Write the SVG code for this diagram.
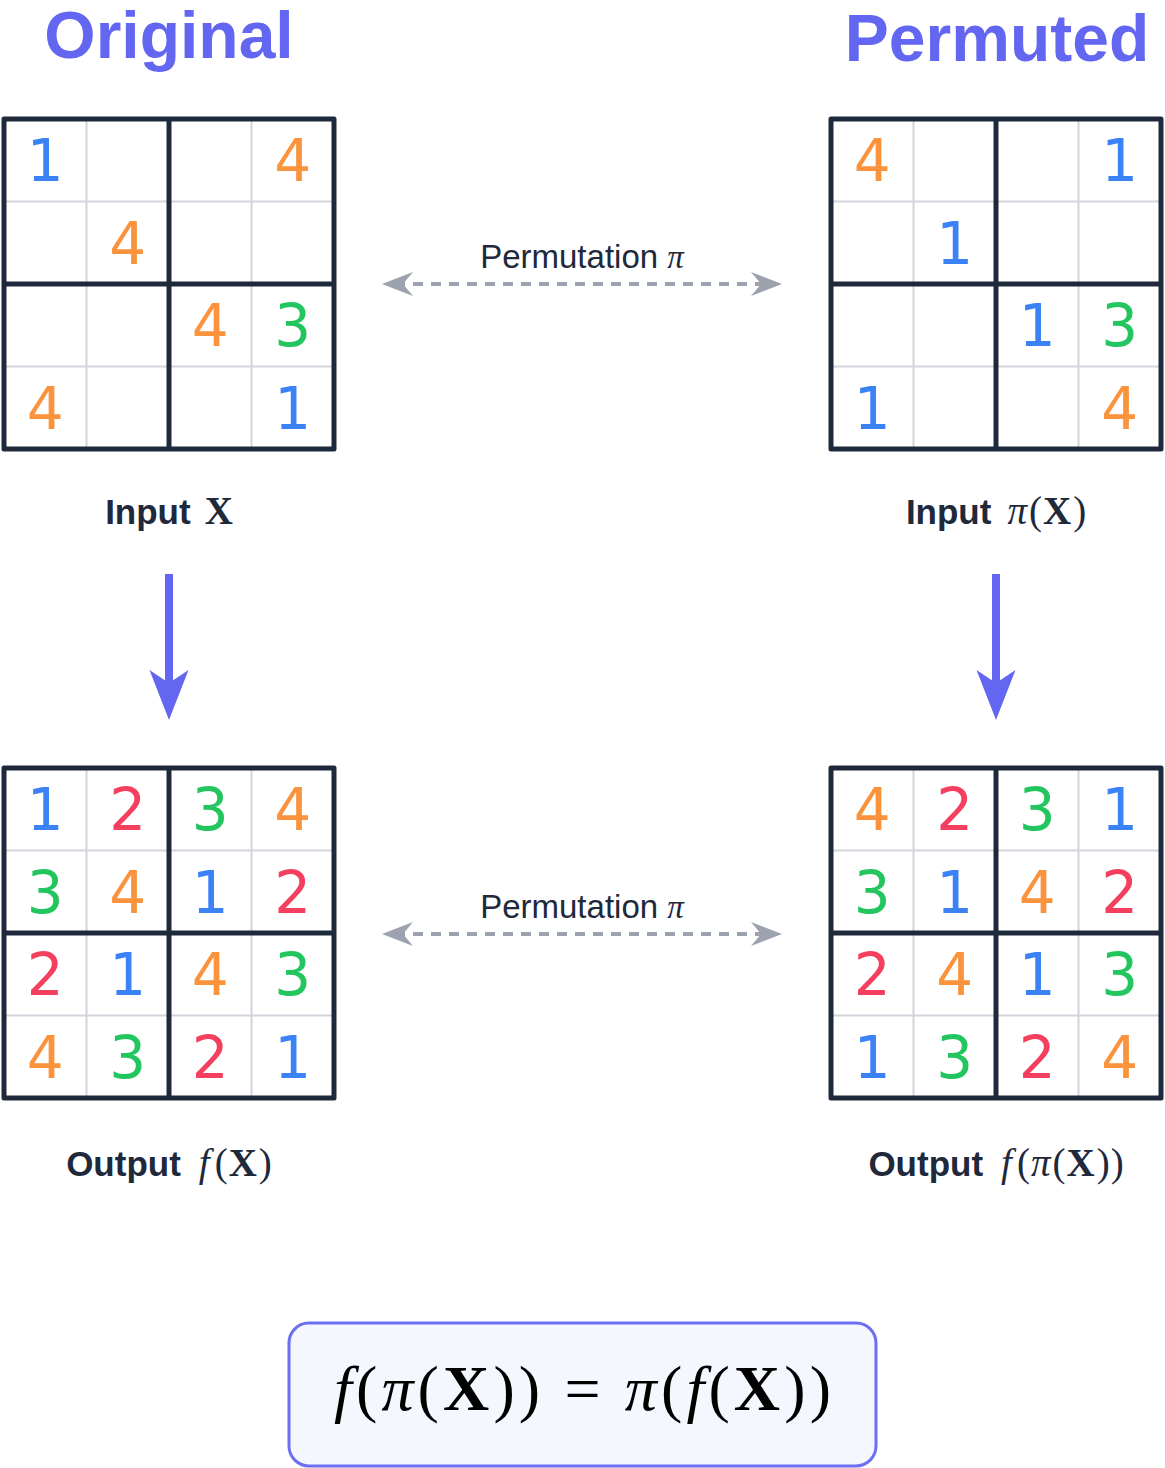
<svg xmlns="http://www.w3.org/2000/svg" width="1165" height="1468" viewBox="0 0 1165 1468">
<style>
.title{font-family:"Liberation Sans",Arial,sans-serif;font-weight:bold;font-size:66px;fill:#6366f1}
.d{font-family:"DejaVu Sans",sans-serif;font-size:58px;text-anchor:middle}
.c1{fill:#3b82f6}.c2{fill:#f43f5e}.c3{fill:#22c55e}.c4{fill:#fb923c}
.cap{font-family:"Liberation Sans",Arial,sans-serif;font-weight:bold;font-size:35px;fill:#1e293b;text-anchor:middle}
.m{font-family:"Liberation Serif","Times New Roman",serif;font-weight:normal}
.mi{font-family:"Liberation Serif","Times New Roman",serif;font-style:italic;font-weight:normal}
.mb{font-family:"Liberation Serif","Times New Roman",serif;font-weight:bold}
.cap .m,.cap .mi,.cap .mb{font-size:39px}
.lbl{font-family:"Liberation Sans",Arial,sans-serif;font-size:33px;fill:#1e293b;text-anchor:middle}
.dash{stroke:#9ca3af;stroke-width:4;stroke-dasharray:10 8;fill:none}
.down{stroke:#6366f1;stroke-width:8;fill:none}
.thin{stroke:#d1d5db;stroke-width:2}
.thick{stroke:#1e293b;stroke-width:5}
</style>
<defs>
<marker id="grayHead" markerUnits="userSpaceOnUse" viewBox="-19 -13 33 26" refX="0" refY="0" markerWidth="33" markerHeight="26" orient="auto-start-reverse">
<path d="M13,0 L-18,-12 L-8,0 L-18,12 Z" fill="#9ca3af"/>
</marker>
<marker id="blueHead" markerUnits="userSpaceOnUse" viewBox="-16 -21 54 42" refX="0" refY="0" markerWidth="54" markerHeight="42" orient="auto">
<path d="M36,0 L-14,-19.5 L-1,0 L-14,19.5 Z" fill="#6366f1"/>
</marker>
<g id="frame">
<rect x="0" y="0" width="330" height="330" fill="#ffffff"/>
<line class="thin" x1="82.5" y1="0" x2="82.5" y2="330"/>
<line class="thin" x1="247.5" y1="0" x2="247.5" y2="330"/>
<line class="thin" x1="0" y1="82.5" x2="330" y2="82.5"/>
<line class="thin" x1="0" y1="247.5" x2="330" y2="247.5"/>
<line class="thick" x1="165" y1="0" x2="165" y2="330"/>
<line class="thick" x1="0" y1="165" x2="330" y2="165"/>
<rect class="thick" x="0" y="0" width="330" height="330" fill="none" stroke-linejoin="round"/>
</g>
</defs>
<rect width="1165" height="1468" fill="#ffffff"/>

<g id="titles">
<text class="title" x="169" y="58" text-anchor="middle">Original</text>
<text class="title" x="997" y="61" text-anchor="middle">Permuted</text>
</g>

<g id="input-x">
<use href="#frame" x="4" y="119"/>
<text class="d c1" x="45.25" y="181.25">1</text>
<text class="d c4" x="292.75" y="181.25">4</text>
<text class="d c4" x="127.75" y="263.75">4</text>
<text class="d c4" x="210.25" y="346.25">4</text>
<text class="d c3" x="292.75" y="346.25">3</text>
<text class="d c4" x="45.25" y="428.75">4</text>
<text class="d c1" x="292.75" y="428.75">1</text>
<text class="cap" x="169" y="524">Input<tspan class="mb" dx="14">X</tspan></text>
</g>

<g id="input-pi-x">
<use href="#frame" x="831" y="119"/>
<text class="d c4" x="872.25" y="181.25">4</text>
<text class="d c1" x="1119.75" y="181.25">1</text>
<text class="d c1" x="954.75" y="263.75">1</text>
<text class="d c1" x="1037.25" y="346.25">1</text>
<text class="d c3" x="1119.75" y="346.25">3</text>
<text class="d c1" x="872.25" y="428.75">1</text>
<text class="d c4" x="1119.75" y="428.75">4</text>
<text class="cap" x="996" y="524">Input<tspan class="mi" dx="16">π</tspan><tspan class="m" dx="2">(</tspan><tspan class="mb" dx="1">X</tspan><tspan class="m" dx="2">)</tspan></text>
</g>

<g id="output-fx">
<use href="#frame" x="4" y="768"/>
<text class="d c1" x="45.25" y="830.25">1</text>
<text class="d c2" x="127.75" y="830.25">2</text>
<text class="d c3" x="210.25" y="830.25">3</text>
<text class="d c4" x="292.75" y="830.25">4</text>
<text class="d c3" x="45.25" y="912.75">3</text>
<text class="d c4" x="127.75" y="912.75">4</text>
<text class="d c1" x="210.25" y="912.75">1</text>
<text class="d c2" x="292.75" y="912.75">2</text>
<text class="d c2" x="45.25" y="995.25">2</text>
<text class="d c1" x="127.75" y="995.25">1</text>
<text class="d c4" x="210.25" y="995.25">4</text>
<text class="d c3" x="292.75" y="995.25">3</text>
<text class="d c4" x="45.25" y="1077.75">4</text>
<text class="d c3" x="127.75" y="1077.75">3</text>
<text class="d c2" x="210.25" y="1077.75">2</text>
<text class="d c1" x="292.75" y="1077.75">1</text>
<text class="cap" x="169" y="1176">Output<tspan class="mi" dx="18">f</tspan><tspan class="m" dx="5">(</tspan><tspan class="mb" dx="1">X</tspan><tspan class="m" dx="2">)</tspan></text>
</g>

<g id="output-f-pi-x">
<use href="#frame" x="831" y="768"/>
<text class="d c4" x="872.25" y="830.25">4</text>
<text class="d c2" x="954.75" y="830.25">2</text>
<text class="d c3" x="1037.25" y="830.25">3</text>
<text class="d c1" x="1119.75" y="830.25">1</text>
<text class="d c3" x="872.25" y="912.75">3</text>
<text class="d c1" x="954.75" y="912.75">1</text>
<text class="d c4" x="1037.25" y="912.75">4</text>
<text class="d c2" x="1119.75" y="912.75">2</text>
<text class="d c2" x="872.25" y="995.25">2</text>
<text class="d c4" x="954.75" y="995.25">4</text>
<text class="d c1" x="1037.25" y="995.25">1</text>
<text class="d c3" x="1119.75" y="995.25">3</text>
<text class="d c1" x="872.25" y="1077.75">1</text>
<text class="d c3" x="954.75" y="1077.75">3</text>
<text class="d c2" x="1037.25" y="1077.75">2</text>
<text class="d c4" x="1119.75" y="1077.75">4</text>
<text class="cap" x="996" y="1176">Output<tspan class="mi" dx="18">f</tspan><tspan class="m" dx="5">(</tspan><tspan class="mi" dx="1">π</tspan><tspan class="m" dx="2">(</tspan><tspan class="mb" dx="1">X</tspan><tspan class="m" dx="2">)</tspan><tspan class="m" dx="1">)</tspan></text>
</g>

<g id="connectors">
<line class="dash" x1="395" y1="284" x2="769" y2="284" marker-start="url(#grayHead)" marker-end="url(#grayHead)"/>
<text class="lbl" x="582" y="268">Permutation <tspan class="mi">π</tspan></text>
<line class="dash" x1="395" y1="934" x2="769" y2="934" marker-start="url(#grayHead)" marker-end="url(#grayHead)"/>
<text class="lbl" x="582" y="918">Permutation <tspan class="mi">π</tspan></text>
<line class="down" x1="169" y1="574" x2="169" y2="684" marker-end="url(#blueHead)"/>
<line class="down" x1="996" y1="574" x2="996" y2="684" marker-end="url(#blueHead)"/>
</g>

<g id="equation">
<rect x="289" y="1323" width="587" height="143" rx="20" fill="#f5f7fe" stroke="#6b70f0" stroke-width="3"/>
<text x="582.5" y="1410" text-anchor="middle" font-size="64" fill="#000000" textLength="497" lengthAdjust="spacing"><tspan class="mi">f</tspan><tspan class="m">(</tspan><tspan class="mi">π</tspan><tspan class="m">(</tspan><tspan class="mb">X</tspan><tspan class="m">)) = </tspan><tspan class="mi">π</tspan><tspan class="m">(</tspan><tspan class="mi">f</tspan><tspan class="m">(</tspan><tspan class="mb">X</tspan><tspan class="m">))</tspan></text>
</g>
</svg>
